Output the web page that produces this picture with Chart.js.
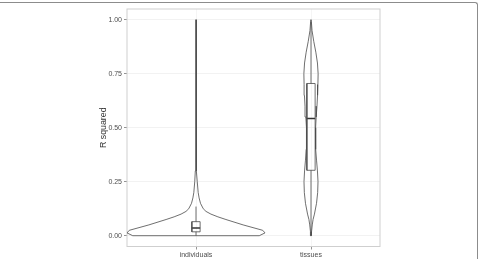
<!DOCTYPE html>
<html>
<head>
<meta charset="utf-8">
<script src="https://cdn.jsdelivr.net/npm/chart.js@4.4.0/dist/chart.umd.min.js"></script>
<style>
  html, body { margin: 0; padding: 0; background: #fff; overflow: hidden; }
  #wrap { position: relative; width: 480px; height: 259px; }
  #frame {
    position: absolute; left: -3px; top: 2px; width: 481px; height: 300px;
    border-top: 1.5px solid #8c8c8c; border-right: 1.5px solid #8c8c8c;
    border-top-right-radius: 3px; box-sizing: border-box; pointer-events: none;
  }
</style>
</head>
<body>
<div id="wrap">
  <canvas id="violinChart" width="480" height="259"></canvas>
  <div id="frame"></div>
</div>
<script>
var categories = ['individuals', 'tissues'];
var yTicks = [0, 0.25, 0.5, 0.75, 1];

// violin outlines: R squared level and density half-width (in category units)
var indivLevels = [0, 0.013, 0.025, 0.05, 0.075, 0.0875, 0.1, 0.1125, 0.125, 0.15, 0.175, 0.2, 0.25, 0.3, 0.4, 0.5, 0.6, 0.7, 0.8, 0.9, 1.0];
var indivWidths = [0.55, 0.60, 0.58, 0.41, 0.26, 0.19, 0.13, 0.087, 0.063, 0.039, 0.027, 0.019, 0.011, 0.006, 0.004, 0.003, 0.002, 0.002, 0.002, 0.002, 0.002];

var tissueLevels = [0, 0.02, 0.05, 0.075, 0.1, 0.15, 0.2, 0.25, 0.3, 0.35, 0.4, 0.45, 0.5, 0.55, 0.6, 0.65, 0.7, 0.75, 0.8, 0.85, 0.9, 0.95, 1.0];
var tissueWidths = [0.002, 0.005, 0.011, 0.018, 0.030, 0.048, 0.058, 0.061, 0.056, 0.048, 0.042, 0.039, 0.040, 0.045, 0.052, 0.057, 0.060, 0.062, 0.056, 0.042, 0.024, 0.009, 0.002];

// box plot summaries, one entry per category
var whiskerLow = [0, 0];
var q1 = [0.018, 0.303];
var medians = [0.036, 0.543];
var q3 = [0.065, 0.705];
var whiskerHigh = [0.135, 0.99];

var BOX_HALF = 0.036;
var FONT = '"Liberation Sans", Arial, Helvetica, sans-serif';
var LINE = '#4a4a4a';

function violinOutline(center, levels, widths) {
    var pts = [];
    for (var i = 0; i < levels.length; i++) {
        pts.push({ x: center - widths[i], y: levels[i] });
    }
    for (var j = levels.length - 1; j >= 0; j--) {
        pts.push({ x: center + widths[j], y: levels[j] });
    }
    pts.push(pts[0]);
    return pts;
}

function boxOutline(i) {
    var c = i + 1;
    return [
        { x: c - BOX_HALF, y: q1[i] }, { x: c + BOX_HALF, y: q1[i] },
        { x: c + BOX_HALF, y: q3[i] }, { x: c - BOX_HALF, y: q3[i] },
        { x: c - BOX_HALF, y: q1[i] }
    ];
}

function whiskerLines(i) {
    var c = i + 1;
    return [
        { x: c, y: whiskerLow[i] }, { x: c, y: q1[i] }, { x: c, y: null },
        { x: c, y: q3[i] }, { x: c, y: whiskerHigh[i] }
    ];
}

function medianLine(i) {
    var c = i + 1;
    return [{ x: c - BOX_HALF, y: medians[i] }, { x: c + BOX_HALF, y: medians[i] }];
}

function lineSet(data, width, color) {
    return {
        data: data,
        showLine: true,
        borderColor: color || LINE,
        borderWidth: width,
        pointRadius: 0,
        fill: false,
        tension: 0,
        spanGaps: false
    };
}

var datasets = [
    lineSet(violinOutline(1, indivLevels, indivWidths), 0.8),
    lineSet(violinOutline(2, tissueLevels, tissueWidths), 0.8)
];
categories.forEach(function (c, i) {
    datasets.push(lineSet(whiskerLines(i), 0.8));
    datasets.push(lineSet(boxOutline(i), 0.8));
    datasets.push(lineSet(medianLine(i), 1.6, '#333'));
});

// panel border all round, like ggplot's theme_bw
var panelBorder = {
    id: 'panelBorder',
    beforeDatasetsDraw: function (chart) {
        var a = chart.chartArea;
        var ctx = chart.ctx;
        ctx.save();
        ctx.strokeStyle = '#cfcfcf';
        ctx.lineWidth = 1;
        ctx.strokeRect(a.left, a.top, a.right - a.left, a.bottom - a.top);
        ctx.restore();
    }
};

var ctx = document.getElementById('violinChart').getContext('2d');
var violinChart = new Chart(ctx, {
    type: 'scatter',
    data: { datasets: datasets },
    plugins: [panelBorder],
    options: {
        responsive: false,
        animation: false,
        layout: { padding: { left: 90, right: 100, top: 9, bottom: 0 } },
        plugins: {
            legend: { display: false },
            tooltip: { enabled: false }
        },
        scales: {
            x: {
                type: 'linear',
                min: 0.4,
                max: 2.6,
                afterBuildTicks: function (scale) {
                    scale.ticks = categories.map(function (c, i) { return { value: i + 1 }; });
                },
                afterFit: function (scale) { scale.height = 12.5; },
                ticks: {
                    callback: function (v) { return categories[Math.round(v) - 1]; },
                    font: { size: 7, family: FONT },
                    color: '#4d4d4d',
                    padding: 1,
                    maxRotation: 0,
                    autoSkip: false
                },
                grid: { color: '#f0f0f0', lineWidth: 0.7, tickColor: '#666', tickLength: 3 },
                border: { display: false }
            },
            y: {
                type: 'linear',
                min: -0.05,
                max: 1.05,
                afterBuildTicks: function (scale) {
                    scale.ticks = yTicks.map(function (v) { return { value: v }; });
                },
                afterFit: function (scale) { scale.width = 37; },
                ticks: {
                    callback: function (v) { return v.toFixed(2); },
                    font: { size: 7, family: FONT },
                    color: '#4d4d4d',
                    padding: 2
                },
                title: {
                    display: true,
                    text: 'R squared',
                    font: { size: 8.8, family: FONT },
                    color: '#333',
                    padding: { top: 8, bottom: 0 }
                },
                grid: { color: '#ececec', lineWidth: 0.7, tickColor: '#666', tickLength: 3 },
                border: { display: false }
            }
        }
    }
});
</script>
</body>
</html>
